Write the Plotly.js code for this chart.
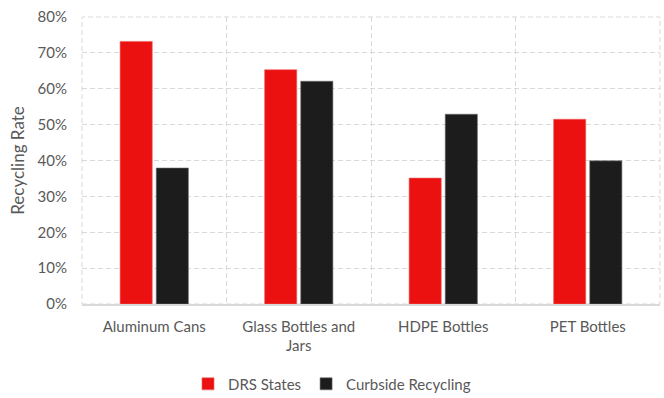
<!DOCTYPE html>
<html>
<head>
<meta charset="utf-8">
<script src="https://cdn.plot.ly/plotly-3.0.1.min.js"></script>
<style>
  html, body { margin: 0; padding: 0; background: #ffffff; }
  #chart { width: 664px; height: 398px; }
</style>
</head>
<body>
<div id="chart"></div>
<script>
// Material categories and recycling rates (fractions)
const categories = ["Aluminum Cans", "Glass Bottles and<br>Jars", "HDPE Bottles", "PET Bottles"];
const drsStates = [0.732, 0.653, 0.351, 0.515];
const curbsideRecycling = [0.379, 0.621, 0.529, 0.399];
const yTicks = [0, 0.1, 0.2, 0.3, 0.4, 0.5, 0.6, 0.7, 0.8];

const textColor = "#595959";
const gridColor = "#D9D9D9";
const gridDash = "5px,3px";
const fontFamily = "Lato, 'Open Sans', sans-serif";

const traces = [
  {
    type: "bar",
    name: "DRS States",
    x: categories,
    y: drsStates,
    marker: { color: "#EC1111", line: { color: "#F26060", width: 0.6 } },
    hoverinfo: "skip"
  },
  {
    type: "bar",
    name: "Curbside Recycling",
    x: categories,
    y: curbsideRecycling,
    marker: { color: "#1C1C1C", line: { color: "#6B6B6B", width: 0.6 } },
    hoverinfo: "skip"
  }
];

const layout = {
  width: 664,
  height: 398,
  margin: { l: 82, r: 4, t: 17, b: 94, autoexpand: false },
  paper_bgcolor: "#ffffff",
  plot_bgcolor: "#ffffff",
  font: { family: fontFamily, size: 15, color: textColor },
  barmode: "group",
  bargap: 0.5,
  bargroupgap: 0.11,
  showlegend: true,
  legend: {
    orientation: "h",
    xref: "container", yref: "container",
    x: 0.5, xanchor: "center",
    y: 0.035, yanchor: "middle",
    font: { family: fontFamily, size: 15, color: textColor },
    itemwidth: 30
  },
  // dashed frame around the plot area (top, left and right edges)
  shapes: [
    {
      type: "rect", xref: "paper", yref: "paper",
      x0: 0, x1: 1, y0: 0, y1: 1,
      line: { color: gridColor, width: 1, dash: gridDash },
      layer: "below"
    }
  ],
  xaxis: {
    type: "category",
    tickson: "boundaries",
    ticks: "",
    showgrid: true,
    gridcolor: gridColor,
    griddash: gridDash,
    gridwidth: 1,
    showline: true,
    linecolor: gridColor,
    linewidth: 1.5,
    ticklabelstandoff: 8,
    tickfont: { family: fontFamily, size: 15, color: textColor },
    fixedrange: true
  },
  yaxis: {
    range: [0, 0.8],
    tickvals: yTicks,
    tickformat: ".0%",
    showgrid: true,
    gridcolor: gridColor,
    griddash: gridDash,
    gridwidth: 1,
    zeroline: false,
    ticks: "",
    ticklabelstandoff: 14,
    tickfont: { family: fontFamily, size: 15, color: textColor },
    title: {
      text: "Recycling Rate",
      font: { family: fontFamily, size: 17, color: textColor },
      standoff: 8
    },
    fixedrange: true
  }
};

Plotly.newPlot("chart", traces, layout, { displayModeBar: false, staticPlot: true });
</script>
</body>
</html>
